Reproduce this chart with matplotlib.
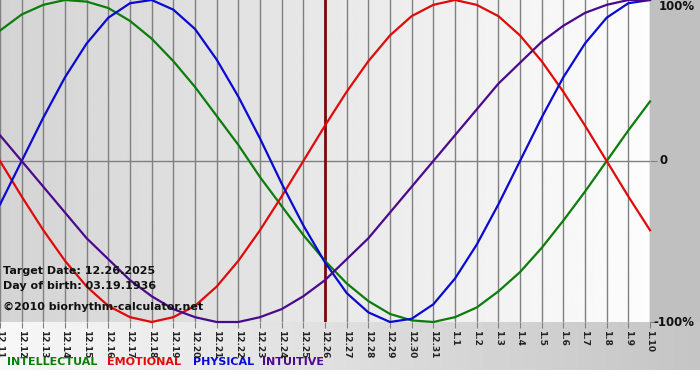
import numpy as np
import matplotlib
matplotlib.use("Agg")
import matplotlib.pyplot as plt

# dates shown on the x axis (12.11.2025 .. 1.10.2026)
dates = ["12.11", "12.12", "12.13", "12.14", "12.15", "12.16", "12.17", "12.18",
         "12.19", "12.20", "12.21", "12.22", "12.23", "12.24", "12.25", "12.26",
         "12.27", "12.28", "12.29", "12.30", "12.31", "1.1", "1.2", "1.3", "1.4",
         "1.5", "1.6", "1.7", "1.8", "1.9", "1.10"]

# values, -1 = -100%, 1 = 100%
intellectual = [0.81, 0.91, 0.97, 1.00, 0.99, 0.95, 0.87, 0.76, 0.62, 0.46, 0.28,
                0.10, -0.10, -0.28, -0.46, -0.62, -0.76, -0.87, -0.95, -0.99, -1.00,
                -0.97, -0.91, -0.81, -0.69, -0.54, -0.37, -0.19, 0.00, 0.19, 0.37]
emotional = [0.00, -0.22, -0.43, -0.62, -0.78, -0.90, -0.97, -1.00, -0.97, -0.90,
             -0.78, -0.62, -0.43, -0.22, 0.00, 0.22, 0.43, 0.62, 0.78, 0.90, 0.97,
             1.00, 0.97, 0.90, 0.78, 0.62, 0.43, 0.22, 0.00, -0.22, -0.43]
physical = [-0.27, 0.00, 0.27, 0.52, 0.73, 0.89, 0.98, 1.00, 0.94, 0.82, 0.63, 0.40,
            0.14, -0.14, -0.40, -0.63, -0.82, -0.94, -1.00, -0.98, -0.89, -0.73,
            -0.52, -0.27, 0.00, 0.27, 0.52, 0.73, 0.89, 0.98, 1.00]
intuitive = [0.16, 0.00, -0.16, -0.32, -0.48, -0.61, -0.74, -0.84, -0.92, -0.97,
             -1.00, -1.00, -0.97, -0.92, -0.84, -0.74, -0.61, -0.48, -0.32, -0.16,
             0.00, 0.16, 0.32, 0.48, 0.61, 0.74, 0.84, 0.92, 0.97, 1.00, 1.00]
target_idx = dates.index("12.26")

W, H = 700, 380
fig = plt.figure(figsize=(W / 100, H / 100), dpi=100)

# figure background
bg = np.ones((H, W))
bg[:322, 650:] = 0.75
bg[322:370, :] = np.linspace(0.97, 0.77, W)[None, :]
bgax = fig.add_axes([0, 0, 1, 1])
bgax.imshow(bg, cmap="gray", vmin=0, vmax=1, aspect="auto", interpolation="bilinear")
bgax.axis("off")

ax = fig.add_axes([0, 58 / H, 650 / W, 322 / H])
ax.patch.set_alpha(0)
x = np.arange(len(dates))
grad = np.linspace(0.83, 0.99, 256)[None, :]
ax.imshow(grad, cmap="gray", vmin=0, vmax=1, aspect="auto",
          extent=[0, len(dates) - 1, -1, 1], zorder=0)

for xi in x:
    ax.axvline(xi, color="#808080", lw=1, zorder=1)
ax.axhline(0, color="#808080", lw=1, zorder=1)
ax.axvline(target_idx, color="#7a0a0a", lw=2, zorder=2)

ax.plot(x, intellectual, color="#0b7d0b", lw=1.6, zorder=3, clip_on=False)
ax.plot(x, emotional, color="#e00a0a", lw=1.6, zorder=3, clip_on=False)
ax.plot(x, physical, color="#0a0ad0", lw=1.6, zorder=3, clip_on=False)
ax.plot(x, intuitive, color="#4b0a8c", lw=1.6, zorder=3, clip_on=False)

ax.set_xlim(0, len(dates) - 1)
ax.set_ylim(-1, 1)
for s in ax.spines.values():
    s.set_visible(False)
ax.set_xticks(x)
ax.set_xticklabels(dates, rotation=270, fontsize=6.5, fontweight="bold", color="#222222")
ax.tick_params(axis="x", direction="out", length=4, color="#808080", pad=2)
ax.yaxis.tick_right()
ax.set_yticks([-1, 0])
ax.set_yticklabels([])
ax.tick_params(axis="y", direction="out", length=5, color="#808080")

tk = dict(fontsize=8.5, fontweight="bold", color="#111111", va="center")
fig.text(659 / W, 1 - 7 / H, "100%", **tk)
fig.text(660 / W, 1 - 161 / H, "0", **tk)
fig.text(653 / W, 1 - 322 / H, "-100%", **tk)

info = dict(fontsize=8, fontweight="bold", color="#111111", va="center")
fig.text(3 / W, 1 - 271 / H, "Target Date: 12.26.2025", **info)
fig.text(3 / W, 1 - 286 / H, "Day of birth: 03.19.1936", **info)
fig.text(3 / W, 1 - 307 / H, "\u00a92010 biorhythm-calculator.net", **info)

leg = dict(fontsize=8, fontweight="bold", va="center")
fig.text(7 / W, 1 - 362 / H, "INTELLECTUAL", color="#0b7d0b", **leg)
fig.text(107 / W, 1 - 362 / H, "EMOTIONAL", color="#e00a0a", **leg)
fig.text(193 / W, 1 - 362 / H, "PHYSICAL", color="#0a0ad0", **leg)
fig.text(262 / W, 1 - 362 / H, "INTUITIVE", color="#4b0a8c", **leg)

fig.savefig("out.png", dpi=100)
